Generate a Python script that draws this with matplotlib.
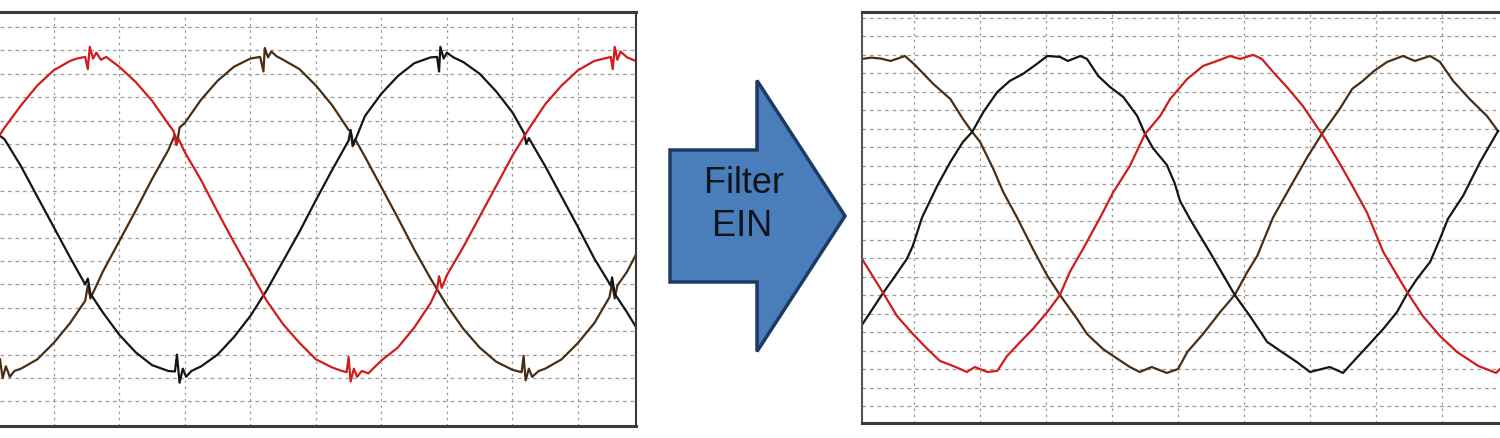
import matplotlib
matplotlib.use("Agg")
import matplotlib.pyplot as plt
from matplotlib.patches import FancyArrow

plt.rcParams["font.family"] = ["Liberation Sans", "DejaVu Sans"]

# ---- left scope: unfiltered (time and voltage in divisions) ----
left_red_t = [0.18, 0.25, 0.5, 0.75, 1.0, 1.25, 1.35, 1.48, 1.52, 1.55, 1.6, 1.65, 1.72, 1.8, 2.0, 2.25, 2.5,
              2.75, 2.83, 2.87, 2.9, 3.0, 3.25, 3.5, 3.75, 4.0, 4.25, 4.5, 4.75, 5.0, 5.25, 5.4, 5.47, 5.5,
              5.53, 5.58, 5.63, 5.7, 5.8, 6.0, 6.25, 6.5, 6.75, 6.85, 6.88, 6.92, 7.0, 7.25, 7.5, 7.75,
              8.0, 8.25, 8.5, 8.75, 9.0, 9.25, 9.4, 9.5, 9.53, 9.56, 9.6, 9.65, 9.75, 9.88]
left_red_v = [3.4, 3.7, 4.65, 5.5, 6.15, 6.55, 6.65, 6.72, 6.2, 7.15, 6.65, 6.9, 6.6, 6.72, 6.3, 5.65, 4.85,
              3.85, 3.55, 2.95, 3.25, 2.65, 1.45, 0.1, -1.2, -2.45, -3.7, -4.7, -5.5, -6.2, -6.55, -6.7, -6.75, -6.1,
              -7.15, -6.6, -6.95, -6.7, -6.8, -6.25, -5.7, -4.85, -3.8, -3.2, -2.65, -3.15, -2.6, -1.4, -0.1, 1.2,
              2.5, 3.65, 4.7, 5.5, 6.15, 6.55, 6.65, 6.72, 6.2, 7.15, 6.6, 6.95, 6.7, 6.55]

left_brown_t = [0.18, 0.22, 0.27, 0.33, 0.4, 0.5, 0.75, 1.0, 1.25, 1.48, 1.52, 1.56, 1.75, 2.0, 2.25, 2.5,
                2.75, 2.85, 2.88, 2.92, 3.0, 3.25, 3.5, 3.75, 4.0, 4.15, 4.2, 4.22, 4.27, 4.32, 4.4, 4.5,
                4.75, 5.0, 5.25, 5.5, 5.53, 5.56, 5.6, 5.75, 6.0, 6.25, 6.5, 6.75, 7.0, 7.25, 7.5, 7.75,
                8.0, 8.14, 8.17, 8.2, 8.25, 8.3, 8.4, 8.5, 8.75, 9.0, 9.25, 9.48, 9.52, 9.56, 9.6, 9.75, 9.88]
left_brown_v = [-6.2, -7.0, -6.5, -6.95, -6.7, -6.6, -6.2, -5.5, -4.65, -3.7, -3.05, -3.6, -2.45, -1.15, 0.15, 1.5,
                2.75, 3.4, 3.0, 3.7, 3.9, 4.9, 5.7, 6.3, 6.65, 6.72, 6.1, 7.1, 6.7, 6.95, 6.75, 6.6,
                6.2, 5.5, 4.65, 3.6, 3.55, 2.9, 3.2, 2.45, 1.15, -0.15, -1.5, -2.75, -3.9, -4.9, -5.7, -6.3,
                -6.65, -6.75, -6.05, -7.1, -6.6, -6.95, -6.7, -6.6, -6.2, -5.5, -4.65, -3.55, -2.95, -3.6, -3.05, -2.45, -1.75]

left_black_t = [0.18, 0.25, 0.5, 0.75, 1.0, 1.25, 1.48, 1.52, 1.56, 1.75, 2.0, 2.25, 2.5, 2.75, 2.85, 2.88,
                2.92, 2.97, 3.02, 3.1, 3.25, 3.5, 3.75, 4.0, 4.25, 4.5, 4.75, 5.0, 5.25, 5.5, 5.53, 5.57,
                5.75, 6.0, 6.25, 6.5, 6.75, 6.85, 6.88, 6.9, 6.95, 7.0, 7.1, 7.25, 7.5, 7.75, 8.0, 8.18,
                8.21, 8.25, 8.5, 8.75, 9.0, 9.25, 9.5, 9.52, 9.56, 9.75, 9.88]
left_black_v = [3.35, 3.2, 2.05, 0.75, -0.55, -1.85, -3.0, -2.75, -3.4, -4.2, -5.15, -5.9, -6.45, -6.7, -6.72, -6.0,
                -7.2, -6.6, -6.95, -6.7, -6.5, -6.0, -5.25, -4.35, -3.25, -2.0, -0.75, 0.6, 1.9, 3.15, 3.6, 2.95,
                4.2, 5.15, 5.9, 6.45, 6.7, 6.72, 6.1, 7.15, 6.65, 6.9, 6.7, 6.5, 6.0, 5.25, 4.35, 3.45,
                3.0, 3.25, 2.05, 0.75, -0.55, -1.9, -3.05, -2.7, -3.4, -4.2, -4.8]

# ---- right scope: with filter ----
right_red_t = [0.21, 0.53, 0.74, 0.98, 1.2, 1.39, 1.59, 1.8, 1.92, 2.11, 2.26, 2.41, 2.61, 2.8, 3.02, 3.21,
               3.36, 3.56, 3.82, 4.02, 4.27, 4.5, 4.73, 4.88, 5.14, 5.38, 5.59, 5.79, 5.94, 6.14, 6.27, 6.44,
               6.65, 6.89, 7.18, 7.41, 7.61, 7.86, 8.11, 8.48, 8.71, 8.97, 9.23, 9.55, 9.82, 9.88]
right_red_v = [-2.54, -4.38, -5.63, -6.6, -7.41, -8.06, -8.33, -8.66, -8.39, -8.66, -8.6, -7.79, -7.03, -6.33, -5.41, -4.49,
               -3.25, -2.0, -0.3, 1.08, 2.49, 4.22, 5.2, 6.11, 7.2, 7.9, 8.17, 8.44, 8.28, 8.5, 8.28, 7.58,
               6.76, 5.74, 4.22, 2.87, 1.62, 0.0, -2.16, -4.38, -5.63, -6.71, -7.58, -8.33, -8.71, -8.5]

right_brown_t = [0.21, 0.35, 0.5, 0.64, 0.75, 0.86, 1.0, 1.29, 1.55, 1.74, 1.88, 2.0, 2.2, 2.35, 2.56, 2.8,
                 3.02, 3.21, 3.47, 3.62, 3.86, 4.02, 4.27, 4.42, 4.6, 4.83, 5.0, 5.14, 5.38, 5.64, 5.86, 6.05,
                 6.2, 6.44, 6.74, 6.97, 7.18, 7.45, 7.64, 7.8, 7.97, 8.17, 8.41, 8.59, 8.82, 8.97, 9.17, 9.42,
                 9.68, 9.85]
right_brown_v = [8.28, 8.35, 8.3, 8.17, 8.3, 8.44, 8.0, 6.93, 6.11, 5.03, 4.33, 3.79, 2.33, 1.08, -0.3, -2.0,
                 -3.46, -4.49, -5.79, -6.6, -7.41, -7.8, -8.39, -8.66, -8.39, -8.71, -8.5, -7.58, -6.6, -5.41, -4.49, -3.25,
                 -2.38, -0.3, 1.6, 3.03, 4.22, 5.57, 6.66, 7.09, 7.63, 8.12, 8.44, 8.17, 8.44, 8.12, 7.09, 6.11,
                 5.2, 4.38]

right_black_t = [0.21, 0.53, 0.68, 0.89, 0.98, 1.12, 1.35, 1.55, 1.74, 1.88, 2.05, 2.26, 2.45, 2.65, 2.86, 3.02,
                 3.21, 3.33, 3.52, 3.62, 3.79, 3.97, 4.17, 4.38, 4.5, 4.62, 4.83, 4.95, 5.03, 5.18, 5.48, 5.86,
                 6.09, 6.35, 6.55, 6.8, 7.0, 7.3, 7.5, 7.65, 7.86, 8.11, 8.32, 8.48, 8.62, 8.82, 8.97, 9.09,
                 9.32, 9.58, 9.85]
right_black_v = [-6.11, -4.38, -3.63, -2.54, -1.84, -0.3, 1.41, 2.71, 3.79, 4.33, 5.41, 6.49, 7.09, 7.47, 8.01, 8.44,
                 8.39, 8.17, 8.44, 8.28, 7.36, 6.76, 6.22, 5.2, 4.22, 3.45, 2.55, 1.55, 0.6, -0.38, -2.16, -4.49,
                 -5.63, -7.03, -7.52, -8.12, -8.66, -8.39, -8.71, -8.12, -7.31, -6.33, -5.41, -4.38, -3.63, -2.71, -1.46, -0.38,
                 0.87, 2.71, 4.38]

# grid positions (divisions)
time_grid = [1, 2, 3, 4, 5, 6, 7, 8, 9]
left_volt_grid = list(range(-8, 9))
right_volt_grid = [k + 0.5 for k in range(-11, 11)]

RED = "#d01c1c"
BROWN = "#4a2e14"
BLACK = "#151515"
GRID = "#9a9a9a"

fig = plt.figure(figsize=(15, 4.39), dpi=100)


def scope(ax, xlim, ylim, vgrid, traces):
    ax.set_xlim(*xlim)
    ax.set_ylim(*ylim)
    ax.set_xticks(time_grid)
    ax.set_yticks(vgrid)
    ax.tick_params(length=0, labelbottom=False, labelleft=False)
    ax.grid(True, axis="x", color=GRID, linestyle=(0, (2, 3)), linewidth=0.9)
    ax.grid(True, axis="y", color=GRID, linestyle=(0, (3, 3)), linewidth=0.9)
    ax.set_axisbelow(True)
    for t, v, c in traces:
        ax.plot(t, v, color=c, linewidth=1.6)
    for side in ["top", "bottom"]:
        ax.spines[side].set_linewidth(2.2)
        ax.spines[side].set_color("#3a3a3a")


ax1 = fig.add_axes([0.0, 12 / 439, 636 / 1500, 414 / 439])
scope(ax1, (0.18, 9.885), (-9.05, 8.64), left_volt_grid,
      [(left_brown_t, left_brown_v, BROWN), (left_black_t, left_black_v, BLACK), (left_red_t, left_red_v, RED)])
ax1.spines["left"].set_visible(False)
ax1.spines["right"].set_color("#3a3a3a")
ax1.spines["right"].set_linewidth(1.5)

ax2 = fig.add_axes([862 / 1500, 15 / 439, 638 / 1500, 411 / 439])
scope(ax2, (0.21, 9.88), (-11.42, 10.82), right_volt_grid,
      [(right_brown_t, right_brown_v, BROWN), (right_black_t, right_black_v, BLACK), (right_red_t, right_red_v, RED)])
ax2.spines["right"].set_visible(False)
ax2.spines["left"].set_color("#555555")
ax2.spines["left"].set_linewidth(1.5)

# block arrow in the middle
ax3 = fig.add_axes([640 / 1500, 0, 230 / 1500, 1])
ax3.set_xlim(0, 230)
ax3.set_ylim(439, 0)
ax3.axis("off")
ax3.add_patch(FancyArrow(30, 217, 175, 0, width=132, head_width=271, head_length=88,
                         length_includes_head=True, facecolor="#4a7ebb", edgecolor="#1d3a63", linewidth=2.5))
ax3.text(104, 193, "Filter", ha="center", va="baseline", fontsize=26, color="#10141c")
ax3.text(102, 236, "EIN", ha="center", va="baseline", fontsize=26, color="#10141c")

fig.savefig("out.png", dpi=100)
